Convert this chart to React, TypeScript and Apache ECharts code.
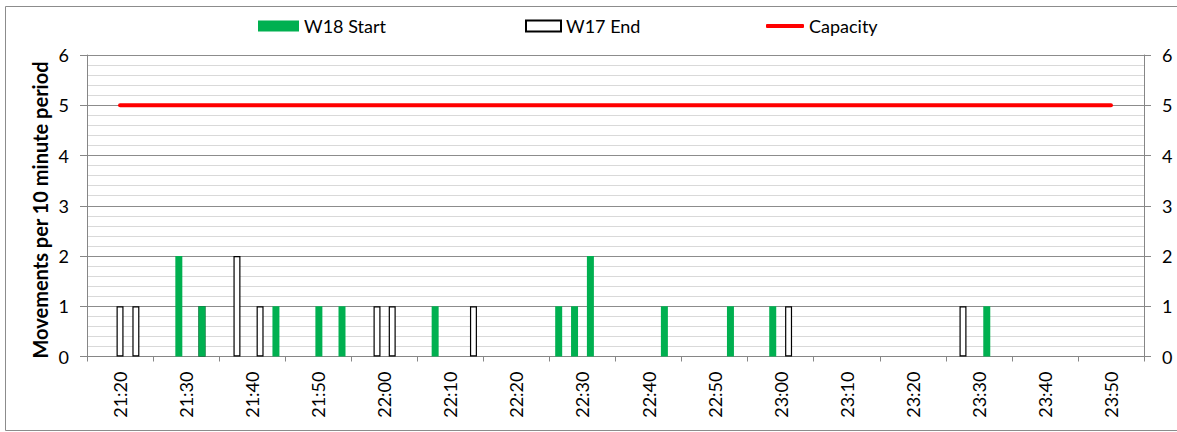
import React, { useEffect, useRef } from "react";
import * as echarts from "echarts";

const axisStart = "21:15";
const axisEnd = "23:55";
const tickLabels = [
  "21:20", "21:30", "21:40", "21:50", "22:00", "22:10", "22:20", "22:30",
  "22:40", "22:50", "23:00", "23:10", "23:20", "23:30", "23:40", "23:50",
];
const yTicks = [0, 1, 2, 3, 4, 5, 6];

const w18Times = [
  "21:28:54", "21:32:24", "21:43:36", "21:50:06", "21:53:36", "22:07:42",
  "22:26:24", "22:28:48", "22:31:12", "22:42:24", "22:52:24", "22:58:48", "23:31:12",
];
const w18Values = [2, 1, 1, 1, 1, 1, 1, 1, 2, 1, 1, 1, 1];

const w17Times = [
  "21:20:00", "21:22:24", "21:32:24", "21:37:42", "21:41:12", "21:58:54",
  "22:01:12", "22:13:30", "23:01:12", "23:27:36",
];
const w17Values = [1, 1, 1, 2, 1, 1, 1, 1, 1, 1];

const capacityTimes = ["21:20", "23:50"];
const capacityValues = [5, 5];

const toMin = (s: string) => {
  const p = s.split(":").map(Number);
  return p[0] * 60 + p[1] + (p[2] || 0) / 60;
};
const fmt = (v: number) => {
  const h = Math.floor(v / 60);
  const m = Math.round(v - h * 60);
  return `${h}:${m < 10 ? "0" + m : m}`;
};

const FONT = "Lato, 'Open Sans', sans-serif";
const GREEN = "#00B050";
const FS = 18;

export default function App() {
  const ref = useRef<HTMLDivElement>(null);
  useEffect(() => {
    if (!ref.current) return;
    const chart = echarts.init(ref.current, null, { renderer: "svg" });
    const labelVals = tickLabels.map(toMin);
    const tickVals = [labelVals[0] - 5, ...labelVals.map((v) => v + 5)];
    const yAxisBase = {
      type: "value" as const,
      min: yTicks[0],
      max: yTicks[yTicks.length - 1],
      interval: 1,
      axisLine: { show: true, lineStyle: { color: "#868686", width: 1 } },
      axisTick: { show: true, length: 7, lineStyle: { color: "#868686" } },
      axisLabel: { color: "#000", fontSize: FS, fontFamily: FONT, margin: 18 },
      minorTick: { show: false, splitNumber: 5 },
    };
    const legendText = { fontSize: FS, color: "#000", fontFamily: FONT };
    chart.setOption({
      animation: false,
      textStyle: { fontFamily: FONT },
      grid: {
        left: 87,
        right: 33,
        top: 55,
        bottom: 75.5,
        containLabel: false,
        outerBoundsMode: "none",
      },
      legend: [
        {
          data: ["W18 Start"],
          left: 258,
          top: 17,
          padding: 0,
          itemWidth: 41,
          itemHeight: 11,
          icon: "rect",
          textStyle: legendText,
        },
        {
          data: ["W17 End"],
          left: 525,
          top: 17,
          padding: 0,
          itemWidth: 35,
          itemHeight: 11,
          icon: "rect",
          textStyle: legendText,
        },
        {
          data: ["Capacity"],
          left: 766,
          top: 17,
          padding: 0,
          itemWidth: 38,
          itemHeight: 4,
          icon: "roundRect",
          textStyle: legendText,
        },
      ],
      xAxis: {
        type: "value",
        min: toMin(axisStart),
        max: toMin(axisEnd),
        axisLine: { show: true, onZero: false, lineStyle: { color: "#868686" } },
        axisTick: {
          show: true,
          length: 5,
          customValues: tickVals,
          lineStyle: { color: "#868686" },
        },
        axisLabel: {
          customValues: labelVals,
          rotate: 90,
          margin: 15,
          fontSize: FS,
          color: "#000",
          fontFamily: FONT,
          formatter: (v: number) => fmt(v),
        },
        splitLine: { show: false },
      },
      yAxis: [
        {
          ...yAxisBase,
          position: "left",
          splitLine: { show: true, lineStyle: { color: "#8C8C8C", width: 1 } },
          minorSplitLine: { show: true, lineStyle: { color: "#D9D9D9", width: 1 } },
        },
        {
          ...yAxisBase,
          position: "right",
          splitLine: { show: false },
          minorSplitLine: { show: false },
        },
      ],
      series: [
        {
          name: "W17 End",
          type: "bar",
          barWidth: 7,
          barGap: "-100%",
          itemStyle: { color: "#FFFFFF", borderColor: "#000000", borderWidth: 1.2 },
          data: w17Times.map((t, i) => [toMin(t), w17Values[i]]),
        },
        {
          name: "W18 Start",
          type: "bar",
          barWidth: 7,
          barGap: "-100%",
          itemStyle: { color: GREEN },
          data: w18Times.map((t, i) => [toMin(t), w18Values[i]]),
        },
        {
          name: "Capacity",
          type: "line",
          symbol: "none",
          itemStyle: { color: "#FF0000" },
          lineStyle: { color: "#FF0000", width: 4, cap: "round" },
          data: capacityTimes.map((t, i) => [toMin(t), capacityValues[i]]),
        },
      ],
      graphic: [
        {
          type: "rect",
          left: 3,
          top: 4,
          shape: { width: 1173, height: 424 },
          style: { fill: "none", stroke: "#8C8C8C", lineWidth: 1 },
          silent: true,
        },
        {
          type: "text",
          x: 40,
          y: 210,
          rotation: Math.PI / 2,
          style: {
            text: "Movements per 10 minute period",
            font: `bold 20px ${FONT}`,
            fill: "#000",
            textAlign: "center",
            textVerticalAlign: "middle",
          },
        },
      ],
    });
    return () => chart.dispose();
  }, []);
  return (
    <div
      ref={ref}
      style={{ position: "fixed", left: 0, top: 0, width: 1177, height: 432, background: "#fff" }}
    />
  );
}
